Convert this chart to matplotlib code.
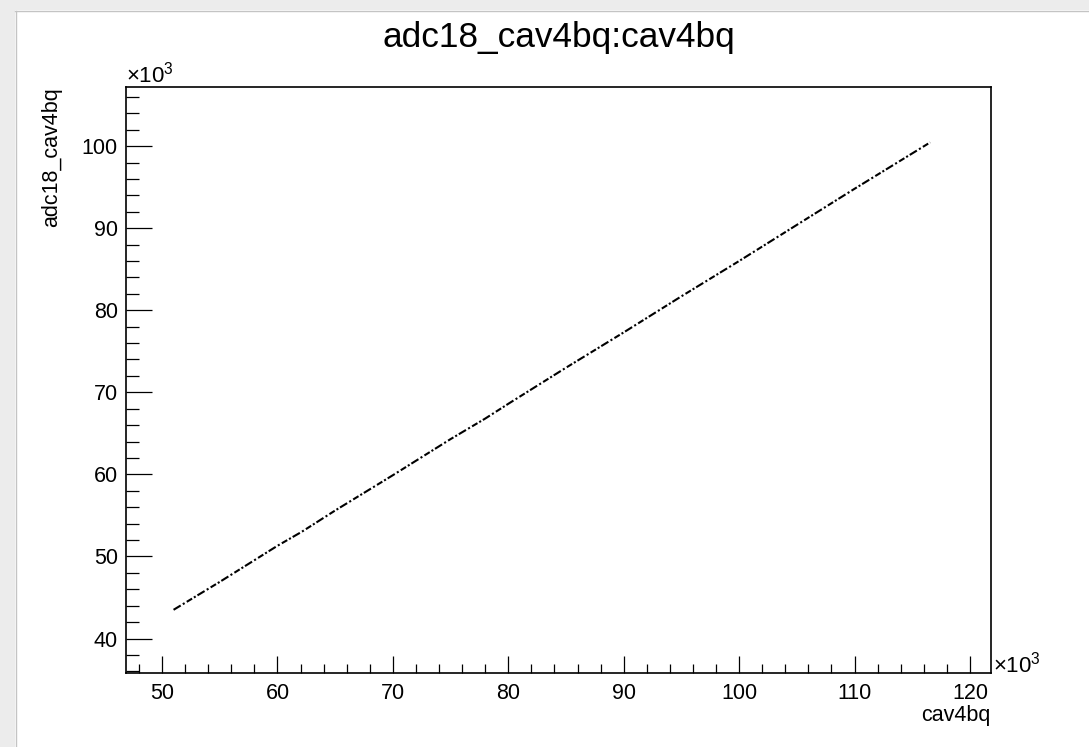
import matplotlib
matplotlib.use("Agg")
import matplotlib.pyplot as plt
from matplotlib.ticker import MultipleLocator
from matplotlib.patches import Rectangle

plt.rcParams['font.family'] = ['Liberation Sans', 'DejaVu Sans']
plt.rcParams['mathtext.fontset'] = 'custom'
plt.rcParams['mathtext.rm'] = 'Liberation Sans'
plt.rcParams['mathtext.it'] = 'Liberation Sans'

# values, in units of 10^3
cav4bq = [51.0, 55.0, 60.0, 62.1, 65.0, 70.0, 75.0, 78.0, 80.0, 85.0,
          90.0, 95.0, 100.0, 105.0, 110.0, 116.55]
adc18_cav4bq = [43.5, 46.9, 51.3, 53.0, 55.6, 59.9, 64.3, 66.8, 68.6, 73.0,
                77.3, 81.7, 86.0, 90.4, 94.8, 100.45]

fig = plt.figure(figsize=(10.89, 7.47), dpi=100, facecolor='white')

# grey window border at top and left
fig.patches.append(Rectangle((0, 1 - 10 / 747), 1, 10 / 747, transform=fig.transFigure,
                             facecolor='#ececec', edgecolor='none'))
fig.patches.append(Rectangle((0, 0), 15 / 1089, 1, transform=fig.transFigure,
                             facecolor='#ececec', edgecolor='none'))
fig.lines.append(plt.Line2D([15 / 1089, 1], [1 - 10.5 / 747, 1 - 10.5 / 747],
                            transform=fig.transFigure, color='#c4c4c4', lw=1))
fig.lines.append(plt.Line2D([15.5 / 1089, 15.5 / 1089], [0, 1 - 10.5 / 747],
                            transform=fig.transFigure, color='#c4c4c4', lw=1))

ax = fig.add_axes([126 / 1089, 74 / 747, 865 / 1089, 586 / 747])

ax.plot(cav4bq, adc18_cav4bq, color='black', lw=1.5,
        linestyle=(0, (4, 1.2, 1, 1.2, 3, 1, 1, 1)))

ax.set_xlim(46.88, 121.82)
ax.set_ylim(35.8, 107.2)

ax.xaxis.set_major_locator(MultipleLocator(10))
ax.xaxis.set_minor_locator(MultipleLocator(2))
ax.yaxis.set_major_locator(MultipleLocator(10))
ax.yaxis.set_minor_locator(MultipleLocator(2))

ax.tick_params(axis='both', which='both', direction='in', top=False, right=False,
               width=0.9, colors='black', labelsize=15.5)
ax.tick_params(axis='x', which='major', length=12.5, pad=7.2)
ax.tick_params(axis='x', which='minor', length=6.3)
ax.tick_params(axis='y', which='major', length=19, pad=5.8)
ax.tick_params(axis='y', which='minor', length=9)

for s in ax.spines.values():
    s.set_linewidth(1.2)

ax.set_xlabel('cav4bq', fontsize=15.5, loc='right', va='top')
ax.xaxis.set_label_coords(1.0, -0.0546)
ax.set_ylabel('adc18_cav4bq', fontsize=15.5, loc='top')
ax.yaxis.set_label_coords(-0.074, 1.0)

ax.text(0.0, 1.0085, r'$\times10^{3}$', transform=ax.transAxes,
        ha='left', va='baseline', fontsize=16)
ax.text(1.002, 0.0, r'$\times10^{3}$', transform=ax.transAxes,
        ha='left', va='baseline', fontsize=16)

fig.text(558.5 / 1089, 1 - 47 / 747, 'adc18_cav4bq:cav4bq', ha='center',
         va='baseline', fontsize=25.4)

fig.savefig('out.png', dpi=100, facecolor='white')
